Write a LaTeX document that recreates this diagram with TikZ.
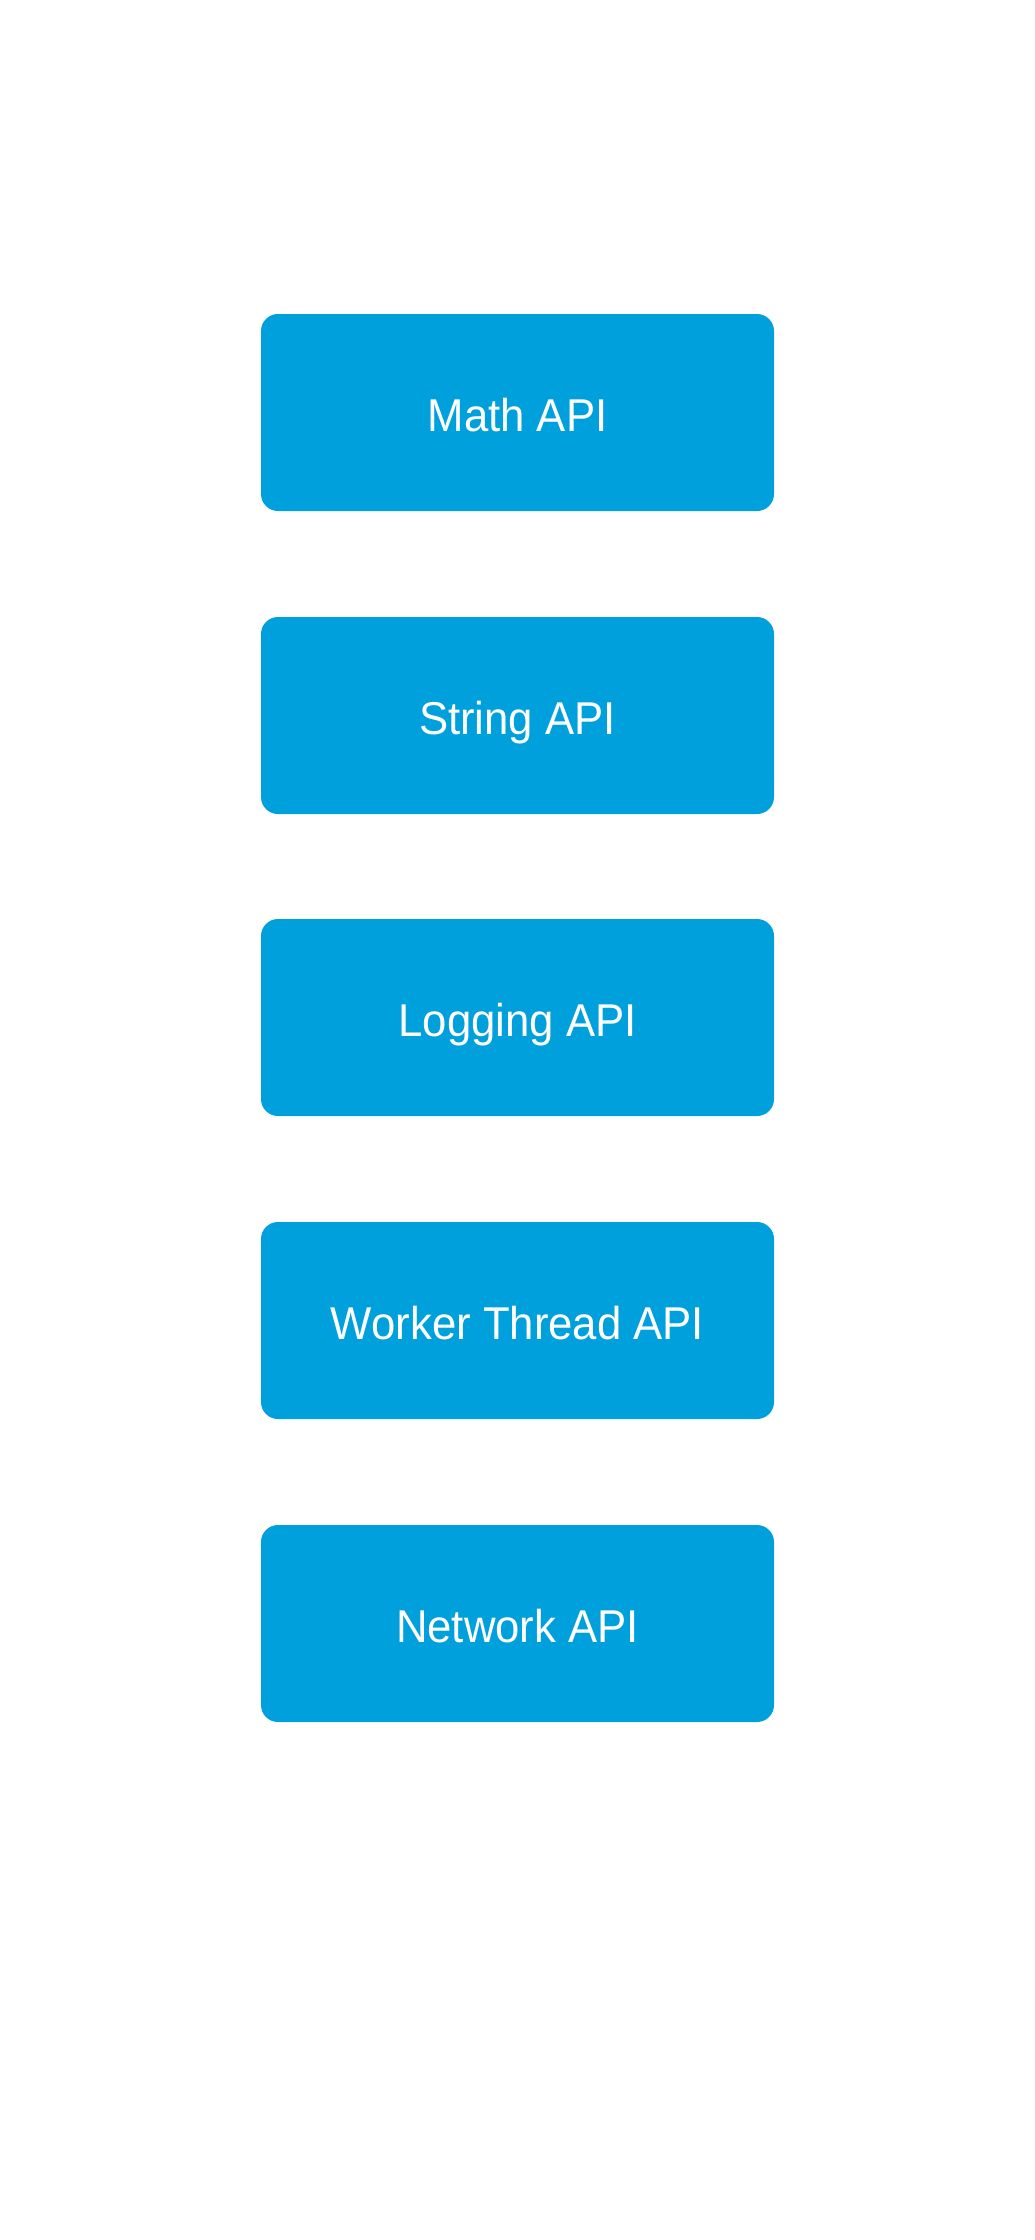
\documentclass[tikz,border=0pt]{standalone}
\usepackage{fontspec}
\setmainfont{Liberation Sans}[FakeStretch=0.95]
\definecolor{boxblue}{HTML}{00A0DC}
\begin{document}
\begin{tikzpicture}[x=1pt,y=-1pt,
  apibox/.style={fill=boxblue, draw=none, rounded corners=17pt, minimum width=513pt, minimum height=197pt, inner sep=0pt, text=white, text height=37pt, text depth=0pt, font=\fontsize{46}{55}\selectfont}]
\fill[white] (0,0) rectangle (1035,2240);
\useasboundingbox (0,0) rectangle (1035,2240);
\node[apibox] (math) at (517.5,412.5) {Math API};
\node[apibox] (string) at (517.5,715.5) {String API};
\node[apibox] (logging) at (517.5,1017.5) {Logging API};
\node[apibox] (worker) at (517.5,1320.5) {Worker Thread API};
\node[apibox] (network) at (517.5,1623.5) {Network API};
\end{tikzpicture}
\end{document}
